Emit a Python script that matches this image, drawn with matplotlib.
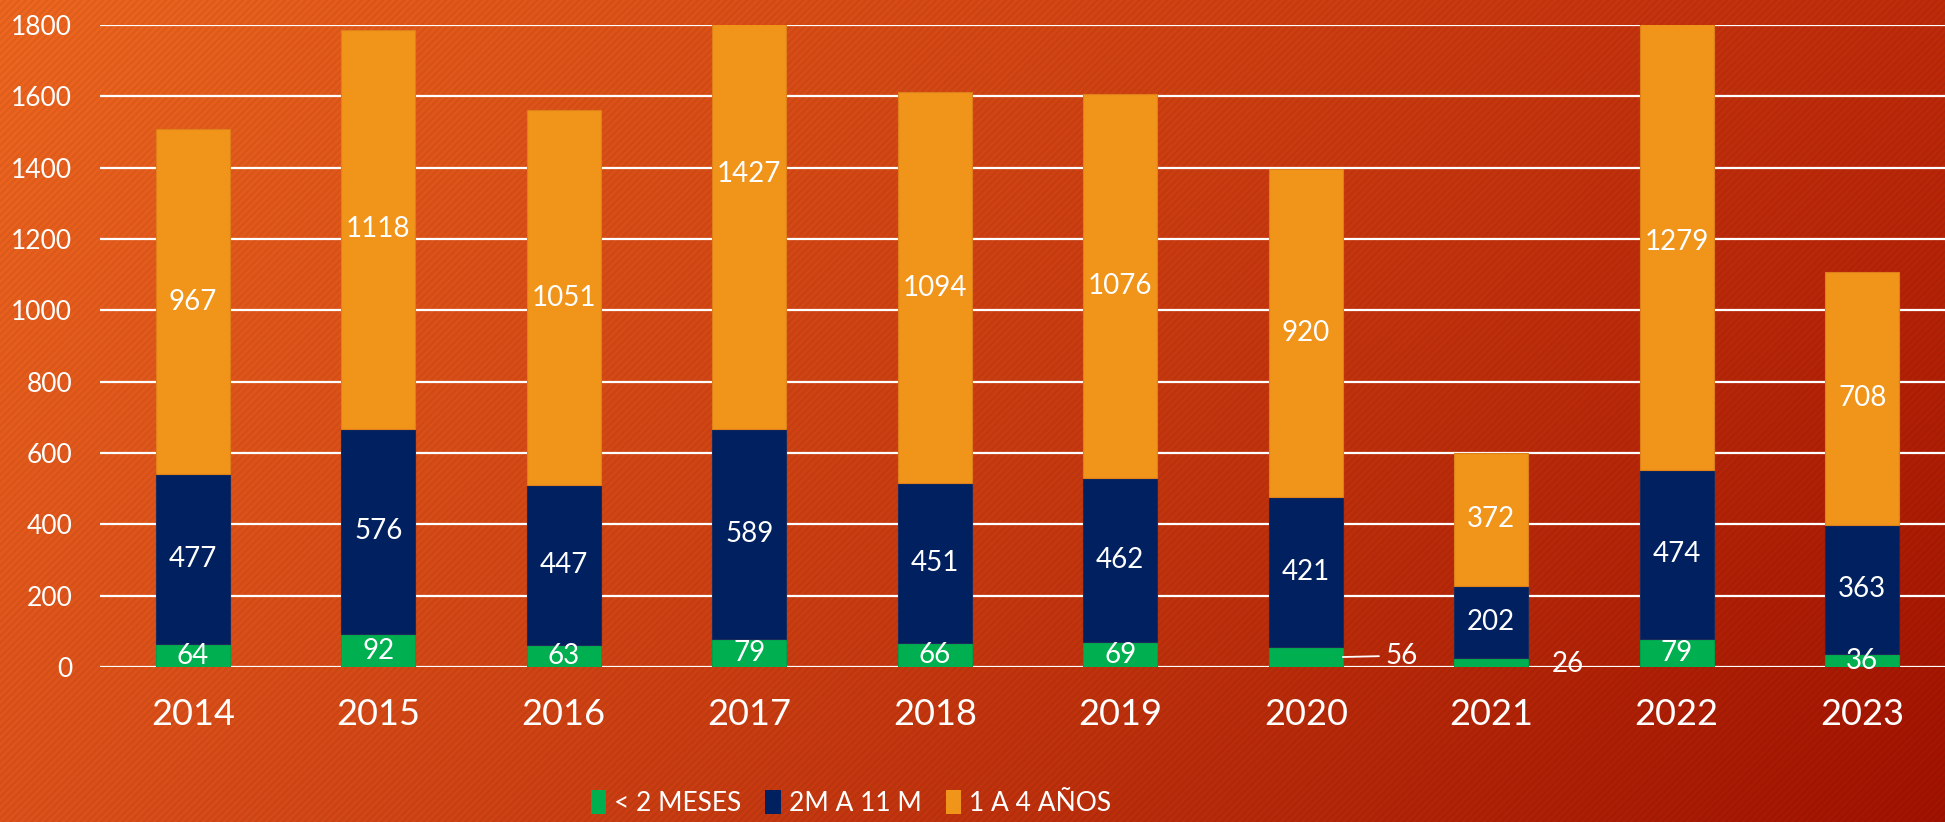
import numpy as np
import matplotlib
matplotlib.use("Agg")
import matplotlib.pyplot as plt
from matplotlib.patches import Patch

# datos
anios = ["2014", "2015", "2016", "2017", "2018", "2019", "2020", "2021", "2022", "2023"]
menos_2m = [64, 92, 63, 79, 66, 69, 56, 26, 79, 36]
de_2m_11m = [477, 576, 447, 589, 451, 462, 421, 202, 474, 363]
de_1_4a = [967, 1118, 1051, 1427, 1094, 1076, 920, 372, 1279, 708]
series = ["< 2 MESES", "2M A 11 M", "1 A 4 AÑOS"]

colores = ["#00B050", "#002060", "#F0941A"]
bordes = ["#00A048", "#1A2A5A", "#E0801A"]

plt.rcParams['font.family'] = ['Lato', 'DejaVu Sans']

fig = plt.figure(figsize=(19.45, 8.22), dpi=100)

# fondo degradado con rayas diagonales
h, w = 822, 1945
yy, xx = np.mgrid[0:h, 0:w]
u = xx / (w - 1)
v = yy / (h - 1)
tl = np.array([232, 100, 30]) / 255
tr = np.array([187, 42, 10]) / 255
bl = np.array([217, 80, 26]) / 255
br = np.array([158, 18, 0]) / 255
img = ((1 - u)[..., None] * (1 - v)[..., None] * tl + u[..., None] * (1 - v)[..., None] * tr
       + (1 - u)[..., None] * v[..., None] * bl + u[..., None] * v[..., None] * br)
raya = 1 + 0.035 * np.sin(2 * np.pi * (xx + yy) / 7.0)
img = np.clip(img * raya[..., None], 0, 1)
bg = fig.add_axes([0, 0, 1, 1], zorder=0)
bg.imshow(img, aspect='auto', extent=[0, 1, 0, 1])
bg.axis('off')

ax = fig.add_axes([100 / 1945, 155 / 822, 1855 / 1945, 642 / 822], zorder=1)
ax.patch.set_alpha(0)

x = np.arange(len(anios))
ancho = 0.4
base = np.zeros(len(anios))
for vals, col, borde, nombre in zip([menos_2m, de_2m_11m, de_1_4a], colores, bordes, series):
    vals = np.array(vals, dtype=float)
    ax.bar(x, vals, ancho, bottom=base, color=col, edgecolor=borde, linewidth=0.8,
           label=nombre, zorder=3)
    for i, val in enumerate(vals):
        centro = base[i] + val / 2
        if nombre == series[0] and anios[i] == "2020":
            # etiqueta fuera de la barra con linea guia
            ax.annotate(str(int(val)), xy=(i + ancho / 2, centro), xytext=(31, 1),
                        textcoords='offset points', ha='left', va='center',
                        color='white', fontsize=20,
                        arrowprops=dict(arrowstyle='-', color='white', lw=1.3,
                                        shrinkA=3, shrinkB=0))
        elif nombre == series[0] and anios[i] == "2021":
            ax.annotate(str(int(val)), xy=(i + ancho / 2, centro), xytext=(17, -1),
                        textcoords='offset points', ha='left', va='center',
                        color='white', fontsize=20)
        else:
            ax.text(i, centro, str(int(val)), ha='center', va='center',
                    color='white', fontsize=20, zorder=4)
    base += vals

ax.set_ylim(0, 1800)
ax.set_xlim(-0.5, len(anios) - 0.5)
ax.set_yticks(range(0, 1801, 200))
ax.set_xticks(x)
ax.set_xticklabels(anios)
ax.tick_params(axis='y', colors='white', labelsize=19, length=0, pad=20)
ax.tick_params(axis='x', colors='white', labelsize=26, length=0, pad=22)
ax.grid(axis='y', color='white', linewidth=1.6, zorder=1)
ax.set_axisbelow(True)
for s in ax.spines.values():
    s.set_visible(False)

manijas = [Patch(facecolor=c) for c in colores]
fig.legend(manijas, series, loc='center', bbox_to_anchor=(851 / 1945, 1 - 803 / 822),
           ncol=3, frameon=False, labelcolor='white',
           handlelength=0.6, handleheight=1.0, handletextpad=0.3, columnspacing=0.9,
           prop={'family': ['Lato', 'DejaVu Sans'], 'size': 19})

fig.savefig("out.png", dpi=100)
